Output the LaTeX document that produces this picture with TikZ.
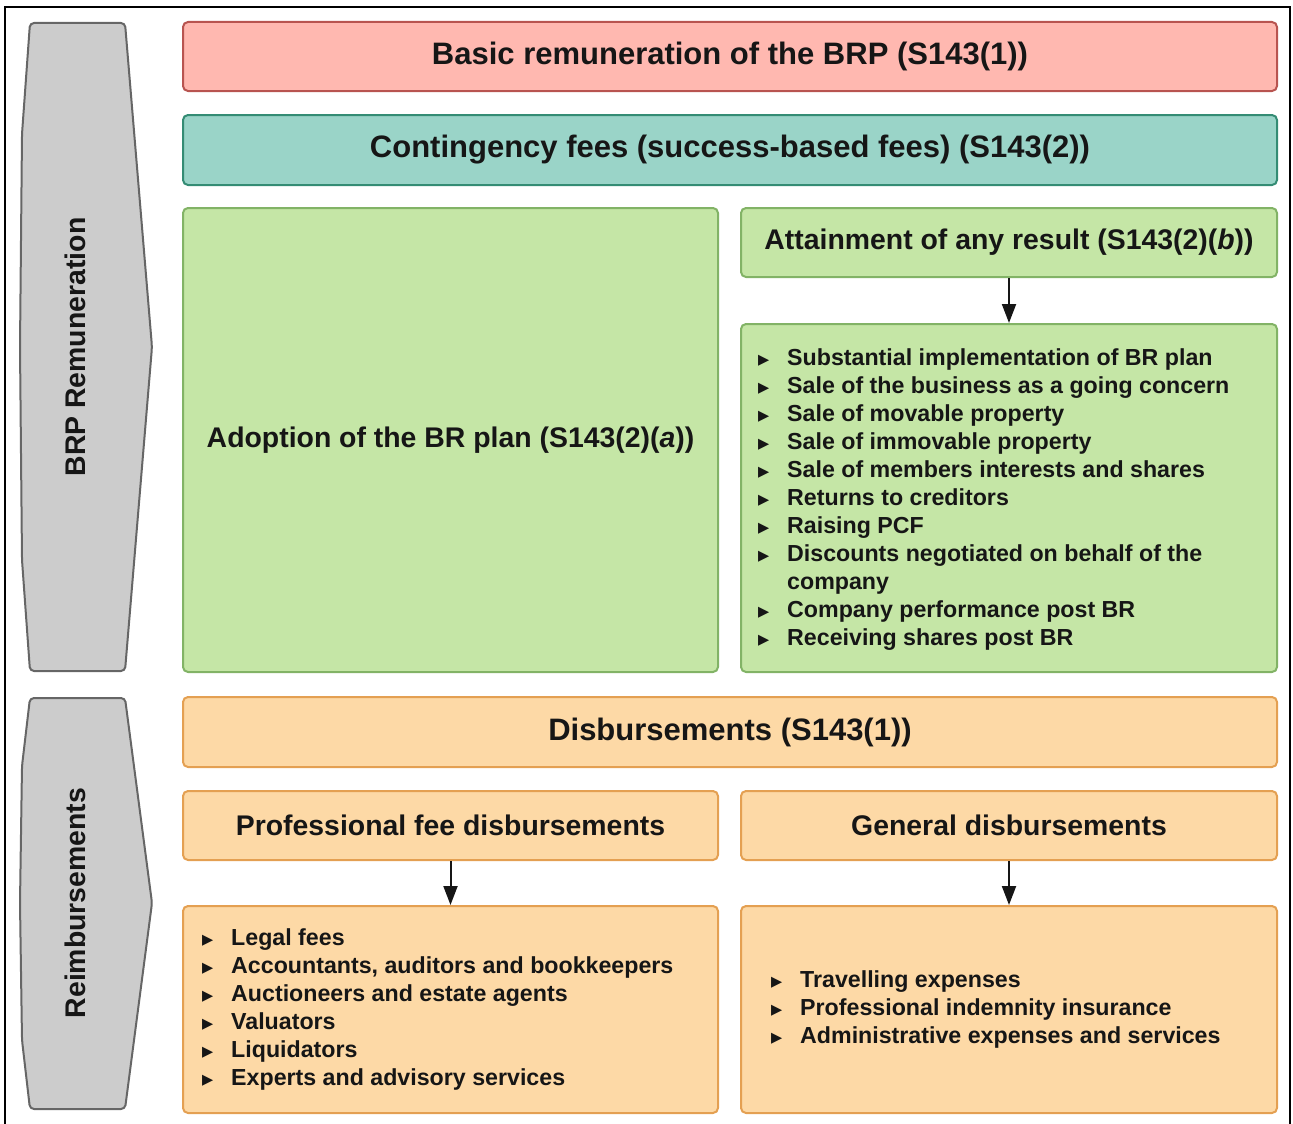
\documentclass[tikz,border=0pt]{standalone}
\usepackage{fontspec}
\setmainfont{Liberation Sans}
\newfontfamily\symfont{DejaVu Sans}
\usepackage{tikz}
\usetikzlibrary{arrows.meta,positioning}
\definecolor{ink}{RGB}{22,22,22}
\definecolor{redfill}{RGB}{255,184,176}
\definecolor{redline}{RGB}{184,84,80}
\definecolor{tealfill}{RGB}{154,212,200}
\definecolor{tealline}{RGB}{52,140,116}
\definecolor{greenfill}{RGB}{197,230,166}
\definecolor{greenline}{RGB}{130,179,102}
\definecolor{orangefill}{RGB}{253,217,166}
\definecolor{orangeline}{RGB}{228,160,82}
\definecolor{chevfill}{RGB}{204,204,204}
\definecolor{chevline}{RGB}{102,102,102}
\newcommand{\itm}{\makebox[29pt][l]{\raisebox{1.5pt}{\symfont\fontsize{14.5}{14.5}\selectfont ▶}}}
\newcommand{\cnt}{\makebox[29pt][l]{}}

\begin{document}
\begin{tikzpicture}[x=1pt, y=-1pt,
    every node/.style={font=\bfseries\fontsize{28.4}{34}\selectfont, text=ink},
    wide/.style={font=\bfseries\fontsize{31}{37}\selectfont},
    box/.style={line width=2pt, rounded corners=5pt, inner sep=0pt},
    redbox/.style={box, fill=redfill, draw=redline},
    tealbox/.style={box, fill=tealfill, draw=tealline},
    greenbox/.style={box, fill=greenfill, draw=greenline},
    orangebox/.style={box, fill=orangefill, draw=orangeline},
    listtext/.style={align=left, anchor=west, inner sep=0pt,
                     font=\bfseries\fontsize{23.2}{28}\selectfont},
    chev/.style={fill=chevfill, draw=chevline, line width=2pt, rounded corners=4pt},
    flow/.style={-{Triangle[length=19pt,width=14pt]}, line width=2pt, ink}]
  \useasboundingbox (0,0) rectangle (1293,1124);
  \draw[line width=2pt] (5,1124) -- (5,7) -- (1290,7) -- (1290,1124);

  % side chevrons
  \draw[chev] (30,23) -- (125,23) -- (152,347) -- (125,671) -- (30,671)
    -- (22,560) -- (20,347) -- (22,134) -- cycle;
  \node[rotate=90] (brplab) at (75,347) {BRP Remuneration};
  \draw[chev] (30,698) -- (125,698) -- (152,903) -- (125,1109) -- (30,1109)
    -- (22,1040) -- (20,903) -- (22,766) -- cycle;
  \node[rotate=90] (reimlab) at (75,903) {Reimbursements};

  % remuneration
  \node[redbox, wide, minimum width=1094pt, minimum height=69pt] (basic) at (730,56.5)
    {Basic remuneration of the BRP (S143(1))};
  \node[tealbox, wide, minimum width=1094pt, minimum height=70pt] (conting) at (730,150)
    {Contingency fees (success-based fees) (S143(2))};
  \node[greenbox, minimum width=535pt, minimum height=464pt] (adopt) at (450.5,440)
    {Adoption of the BR plan (S143(2)(\textit{a}))};
  \node[greenbox, minimum width=536pt, minimum height=69pt] (attain) at (1009,242.5)
    {Attainment of any result (S143(2)(\textit{b}))};
  \node[greenbox, minimum width=536pt, minimum height=348pt] (results) at (1009,498) {};
  \node[listtext] (resitems) at ([xshift=18pt,yshift=-2pt]results.west)
    {\itm Substantial implementation of BR plan\\
     \itm Sale of the business as a going concern\\
     \itm Sale of movable property\\
     \itm Sale of immovable property\\
     \itm Sale of members interests and shares\\
     \itm Returns to creditors\\
     \itm Raising PCF\\
     \itm Discounts negotiated on behalf of the\\
     \cnt company\\
     \itm Company performance post BR\\
     \itm Receiving shares post BR};
  \draw[flow] (attain) -- (results);

  % reimbursements
  \node[orangebox, wide, minimum width=1094pt, minimum height=70pt] (disb) at (730,732)
    {Disbursements (S143(1))};
  \node[orangebox, minimum width=535pt, minimum height=69pt] (profdisb) at (450.5,825.5)
    {Professional fee disbursements};
  \node[orangebox, minimum width=536pt, minimum height=69pt] (gendisb) at (1009,825.5)
    {General disbursements};
  \node[orangebox, minimum width=535pt, minimum height=207pt] (proflist) at (450.5,1009.5) {};
  \node[orangebox, minimum width=536pt, minimum height=207pt] (genlist) at (1009,1009.5) {};
  \node[listtext] (profitems) at ([xshift=20pt]proflist.west)
    {\itm Legal fees\\
     \itm Accountants, auditors and bookkeepers\\
     \itm Auctioneers and estate agents\\
     \itm Valuators\\
     \itm Liquidators\\
     \itm Experts and advisory services};
  \node[listtext] (genitems) at ([xshift=31pt]genlist.west)
    {\itm Travelling expenses\\
     \itm Professional indemnity insurance\\
     \itm Administrative expenses and services};
  \draw[flow] (profdisb) -- (proflist);
  \draw[flow] (gendisb) -- (genlist);
\end{tikzpicture}
\end{document}
